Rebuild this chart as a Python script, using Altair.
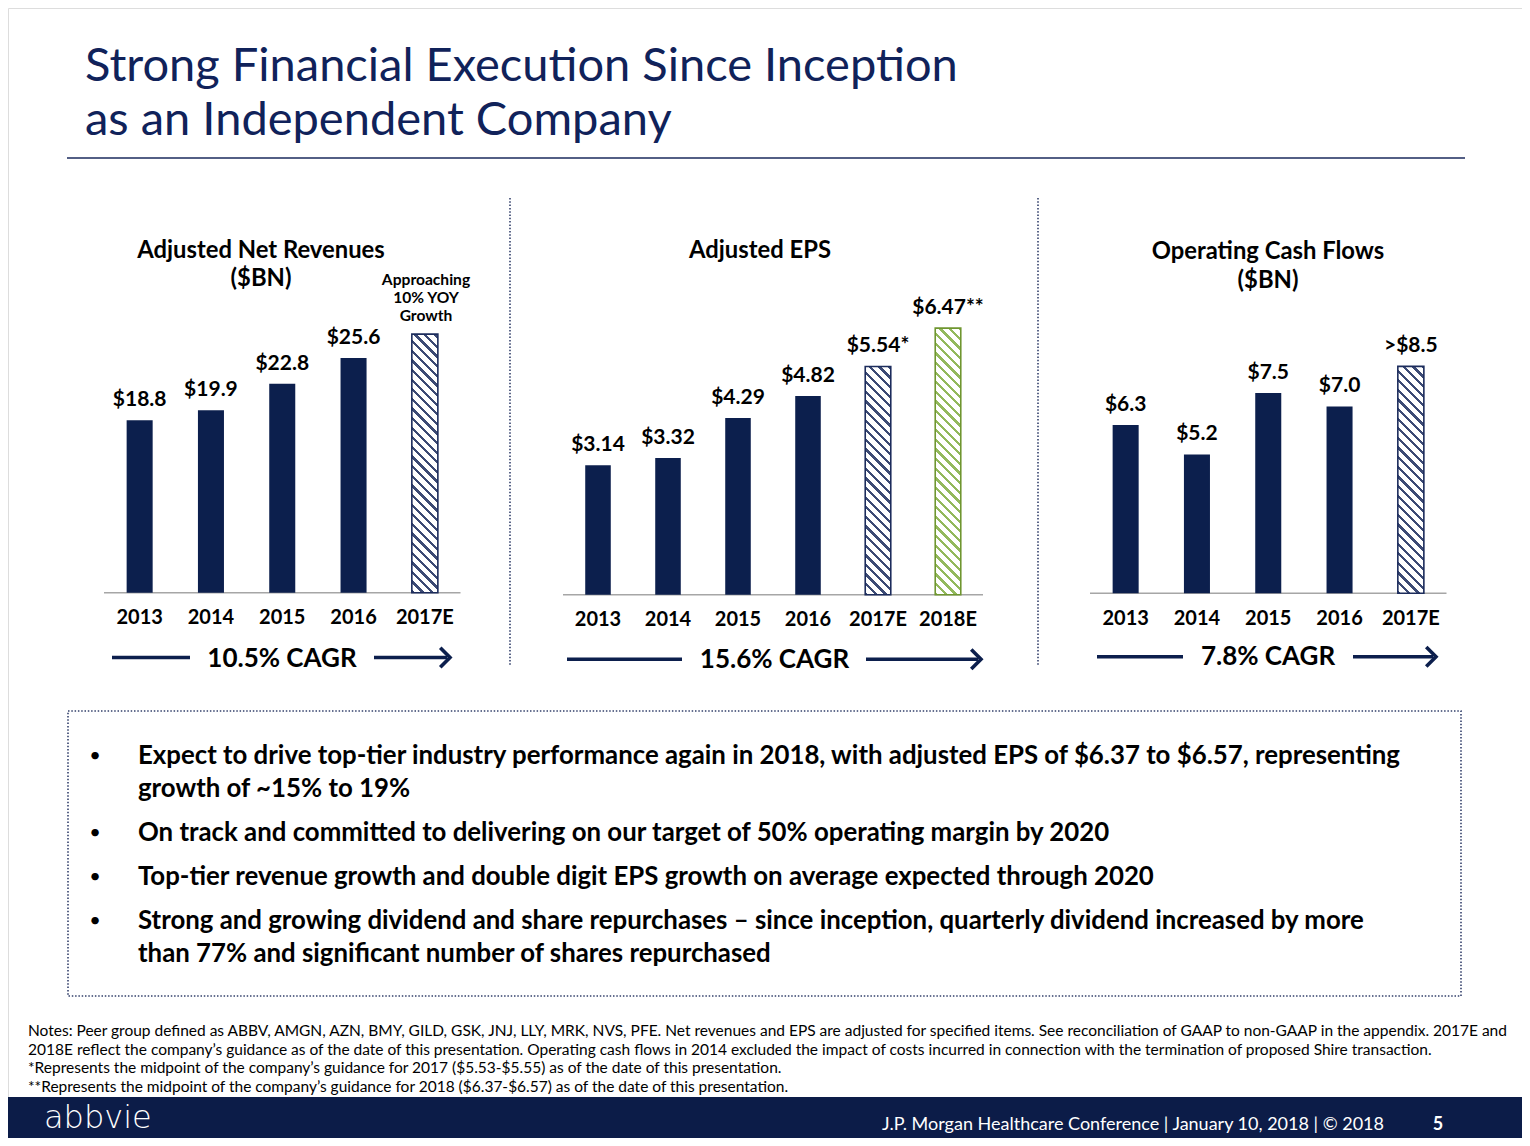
import math
import altair as alt
import pandas as pd

OFF = 8
W, H = 1514, 1130
FONT = "Lato"
NAVY = "#0c1f4d"
TNAVY = "#10225a"
BLACK = "#000000"

# ---------------- data ----------------
rev_years = ["2013", "2014", "2015", "2016", "2017E"]
rev_values = [18.8, 19.9, 22.8, 25.6, 28.2]
rev_labels = ["$18.8", "$19.9", "$22.8", "$25.6", ""]
rev_kind = ["A", "A", "A", "A", "E"]

eps_years = ["2013", "2014", "2015", "2016", "2017E", "2018E"]
eps_values = [3.14, 3.32, 4.29, 4.82, 5.54, 6.47]
eps_labels = ["$3.14", "$3.32", "$4.29", "$4.82", "$5.54*", "$6.47**"]
eps_kind = ["A", "A", "A", "A", "E", "G"]

ocf_years = ["2013", "2014", "2015", "2016", "2017E"]
ocf_values = [6.3, 5.2, 7.5, 7.0, 8.5]
ocf_labels = ["$6.3", "$5.2", "$7.5", "$7.0", ">$8.5"]
ocf_kind = ["A", "A", "A", "A", "E"]

title_lines = ["Strong Financial Execution Since Inception", "as an Independent Company"]
panel_titles = [["Adjusted Net Revenues", "($BN)"], ["Adjusted EPS"], ["Operating Cash Flows", "($BN)"]]
approach_lines = ["Approaching", "10% YOY", "Growth"]
cagr_texts = ["10.5% CAGR", "15.6% CAGR", "7.8% CAGR"]
bullet_lines = [
    "Expect to drive top-tier industry performance again in 2018, with adjusted EPS of $6.37 to $6.57, representing",
    "growth of ~15% to 19%",
    "On track and committed to delivering on our target of 50% operating margin by 2020",
    "Top-tier revenue growth and double digit EPS growth on average expected through 2020",
    "Strong and growing dividend and share repurchases \u2013 since inception, quarterly dividend increased by more",
    "than 77% and significant number of shares repurchased",
]
bullet_starts = [True, False, True, True, True, False]
note_lines = [
    "Notes: Peer group defined as ABBV, AMGN, AZN, BMY, GILD, GSK, JNJ, LLY, MRK, NVS, PFE. Net revenues and EPS are adjusted for specified items. See reconciliation of GAAP to non-GAAP in the appendix. 2017E and",
    "2018E reflect the company\u2019s guidance as of the date of this presentation. Operating cash flows in 2014 excluded the impact of costs incurred in connection with the termination of proposed Shire transaction.",
    "*Represents the midpoint of the company\u2019s guidance for 2017 ($5.53-$5.55) as of the date of this presentation.",
    "**Represents the midpoint of the company\u2019s guidance for 2018 ($6.37-$6.57) as of the date of this presentation.",
]
footer_text = "J.P. Morgan Healthcare Conference | January 10, 2018  | \u00a9 2018"
page_number = "5"
logo_text = "abbvie"

PI = 0.635


def pix(v):
    return v - OFF


def text_layer(rows, size, weight="normal", color=BLACK, align="left", font=FONT):
    df = pd.DataFrame(rows, columns=["x", "y", "t"])
    df["x"] = df["x"] - OFF
    df["y"] = df["y"] - OFF
    return alt.Chart(df).mark_text(
        fontSize=size, fontWeight=weight, color=color, align=align,
        baseline="alphabetic", font=font
    ).encode(
        x=alt.X("x:Q", scale=None, axis=None),
        y=alt.Y("y:Q", scale=None, axis=None),
        text="t:N",
    )


def rule_layer(rows, color, width, dash=None):
    df = pd.DataFrame(rows, columns=["x", "x2", "y", "y2"]) - OFF
    kw = dict(color=color, strokeWidth=width, strokeCap="butt")
    if dash:
        kw["strokeDash"] = dash
    return alt.Chart(df).mark_rule(**kw).encode(
        x=alt.X("x:Q", scale=None, axis=None), x2="x2:Q",
        y=alt.Y("y:Q", scale=None, axis=None), y2="y2:Q",
    )


def hatch_gradient(w, h, dark, light, period=6.8, frac=0.34):
    r = w / h
    s = (1 + r) / (1 + r * r)
    dt = period * math.sqrt(2) / (w + h)
    stops = []
    k = 0
    while k * dt < 1:
        a = k * dt
        b = min(1, a + frac * dt)
        c = min(1, a + dt)
        stops += [
            {"offset": round(a, 5), "color": dark},
            {"offset": round(b, 5), "color": dark},
            {"offset": round(b, 5), "color": light},
            {"offset": round(c, 5), "color": light},
        ]
        k += 1
    return {"gradient": "linear", "x1": 0, "y1": 1, "x2": s * r, "y2": 1 - s, "stops": stops}


def panel(years, values, labels, kinds, x0, x1, base, ppu, ymax, year_y, hatch_styles):
    df = pd.DataFrame({"year": years, "value": values, "label": labels, "kind": kinds})
    n = len(years)
    bw = (x1 - x0) / n * (1 - PI)
    xs = alt.X("year:N", sort=years, axis=None,
               scale=alt.Scale(domain=years, range=[pix(x0), pix(x1)],
                               paddingInner=PI, paddingOuter=PI / 2))
    ys = alt.Y("value:Q", axis=None,
               scale=alt.Scale(domain=[0, ymax], range=[pix(base), pix(base - ymax * ppu)],
                               nice=False, zero=True))
    base_c = alt.Chart(df)
    layers = [
        base_c.transform_filter(alt.datum.kind == "A").mark_bar(color=NAVY).encode(x=xs, y=ys)
    ]
    for yr, val, kd in zip(years, values, kinds):
        if kd == "A":
            continue
        dark, light, edge = hatch_styles[kd]
        grad = hatch_gradient(bw, val * ppu, dark, light)
        layers.append(
            base_c.transform_filter(alt.datum.year == yr)
            .mark_bar(fill=grad, stroke=edge, strokeWidth=1.6)
            .encode(x=xs, y=ys)
        )
    layers.append(
        base_c.mark_text(dy=-14, fontSize=21, fontWeight="bold", color=BLACK,
                         baseline="alphabetic", font=FONT)
        .encode(x=xs, y=ys, text="label:N")
    )
    layers.append(
        base_c.mark_text(fontSize=20, fontWeight="bold", color=BLACK,
                         baseline="alphabetic", font=FONT)
        .encode(x=xs, y=alt.value(pix(year_y)), text="year:N")
    )
    return layers


hatch_styles = {
    "E": ("#3c4a74", "#ffffff", "#1c2c5c"),
    "G": ("#93b95c", "#ffffff", "#6f9630"),
}

layers = []

# footer band
footer_df = pd.DataFrame({"x": [0], "x2": [W], "y": [pix(1097)], "y2": [H]})
layers.append(
    alt.Chart(footer_df).mark_rect(color="#0c1c48").encode(
        x=alt.X("x:Q", scale=None, axis=None), x2="x2:Q",
        y=alt.Y("y:Q", scale=None, axis=None), y2="y2:Q")
)

# title
layers.append(text_layer([[85, 81, title_lines[0]], [85, 135, title_lines[1]]], 47, "normal", TNAVY))
layers.append(rule_layer([[67, 1465, 158, 158]], "#1a2a5c", 1.6))

# dotted separators and box
layers.append(rule_layer([[510, 510, 198, 665], [1038, 1038, 198, 665]], "#33406b", 1.6, [1.5, 1.8]))
box_df = pd.DataFrame({"x": [pix(68)], "x2": [pix(1461)], "y": [pix(711)], "y2": [pix(996)]})
layers.append(
    alt.Chart(box_df).mark_rect(fillOpacity=0, stroke="#33406b", strokeWidth=1.6, strokeDash=[1.5, 1.8]).encode(
        x=alt.X("x:Q", scale=None, axis=None), x2="x2:Q",
        y=alt.Y("y:Q", scale=None, axis=None), y2="y2:Q")
)

# panel titles
layers.append(text_layer([
    [261, 258, panel_titles[0][0]], [261, 286, panel_titles[0][1]],
    [760, 258, panel_titles[1][0]],
    [1268, 259, panel_titles[2][0]], [1268, 288, panel_titles[2][1]],
], 23.8, "bold", BLACK, "center"))
layers.append(text_layer([
    [426, 285, approach_lines[0]], [426, 303, approach_lines[1]], [426, 321, approach_lines[2]],
], 15.6, "bold", BLACK, "center"))

# axis baselines
layers.append(rule_layer([[104, 460.5, 592.7, 592.7], [563, 983, 594.7, 594.7], [1090, 1446.5, 593.3, 593.3]], "#a6a6a6", 1.6))

# bars
layers += panel(rev_years, rev_values, rev_labels, rev_kind, 104, 460.5, 592.7, 9.168, 30, 623.5, hatch_styles)
layers += panel(eps_years, eps_values, eps_labels, eps_kind, 563, 983, 594.7, 41.2, 7, 625.5, hatch_styles)
layers += panel(ocf_years, ocf_values, ocf_labels, ocf_kind, 1090, 1446.5, 593.3, 26.7, 10, 625, hatch_styles)

# CAGR lines and arrows
layers.append(rule_layer([
    [112, 190, 657.5, 657.5], [374, 447, 657.5, 657.5],
    [567, 682, 659.3, 659.3], [866, 978, 659.3, 659.3],
    [1097, 1183, 656.7, 656.7], [1353, 1433, 656.7, 656.7],
], NAVY, 3.6))
tips = pd.DataFrame({"x": [450, 981, 1436], "y": [657.5, 659.3, 656.7]}) - OFF
layers.append(
    alt.Chart(tips).mark_point(shape="M-1,-1L0,0L-1,1", filled=False, stroke=NAVY,
                               strokeWidth=3.6, size=380, opacity=1).encode(
        x=alt.X("x:Q", scale=None, axis=None), y=alt.Y("y:Q", scale=None, axis=None))
)
layers.append(text_layer([
    [282, 667, cagr_texts[0]], [774.5, 668, cagr_texts[1]], [1268, 665, cagr_texts[2]],
], 26, "bold", BLACK, "center"))

# bullets
bullet_y = [764, 797, 841, 885, 929, 962]
layers.append(text_layer([[138, y, t] for y, t in zip(bullet_y, bullet_lines)], 25.8, "bold", BLACK))
layers.append(text_layer([[95, y - 2, "\u2022"] for y, b in zip(bullet_y, bullet_starts) if b], 20, "normal", BLACK, "center"))

# notes
note_y = [1036, 1055, 1073, 1092]
layers.append(text_layer([[28, y, t] for y, t in zip(note_y, note_lines)], 15.5, "normal", BLACK))

# footer texts
layers.append(text_layer([[1384, 1130, footer_text]], 18, "normal", "#ffffff", "right"))
layers.append(text_layer([[1438, 1130, page_number]], 18, "bold", "#ffffff", "center"))
layers.append(text_layer([[44, 1128, logo_text]], 32, 200, "#ffffff", "left", "DejaVu Sans"))

chart = alt.layer(*layers).resolve_scale(x="independent", y="independent").properties(
    width=W, height=H, padding=0, autosize=alt.AutoSizeParams(type="none")
).configure_view(stroke=None).configure(background="#ffffff")

chart.save("out.html", embed_options={"renderer": "svg", "actions": False})
